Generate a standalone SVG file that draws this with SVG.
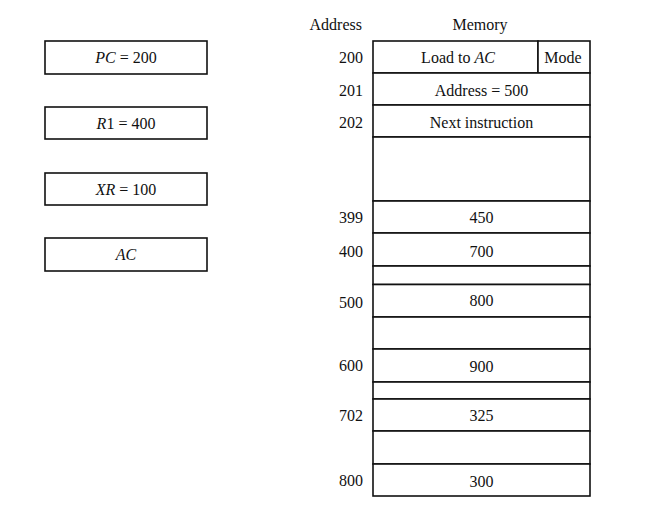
<svg xmlns="http://www.w3.org/2000/svg" width="668" height="517" viewBox="0 0 668 517">
<style>
  .box { fill: #fff; stroke: #111; stroke-width: 1.6; }
  .t { font-family: "Liberation Serif", "Times New Roman", serif; font-size: 16px; fill: #111; }
  .c { text-anchor: middle; }
  .r { text-anchor: end; }
  .i { font-style: italic; }
</style>
<rect width="668" height="517" fill="#fff"/>
<g id="registers">
  <g id="reg-pc"><rect class="box" x="45" y="41" width="162" height="33"/><text class="t c" x="126" y="62.5"><tspan class="i">PC</tspan> = 200</text></g>
  <g id="reg-r1"><rect class="box" x="45" y="107" width="162" height="32"/><text class="t c" x="126" y="128.5"><tspan class="i">R</tspan>1 = 400</text></g>
  <g id="reg-xr"><rect class="box" x="45" y="173" width="162" height="32"/><text class="t c" x="126" y="194.5"><tspan class="i">XR</tspan> = 100</text></g>
  <g id="reg-ac"><rect class="box" x="45" y="238" width="162" height="33"/><text class="t c i" x="126" y="260">AC</text></g>
</g>
<g id="headers">
  <text class="t r" x="362" y="30">Address</text>
  <text class="t c" x="480" y="30">Memory</text>
</g>
<g id="memory">
  <g id="m200"><rect class="box" x="373" y="41" width="165" height="32"/><rect class="box" x="538" y="41" width="52" height="32"/><text class="t c" x="458" y="62.5">Load to <tspan class="i">AC</tspan></text><text class="t c" x="563" y="62.5">Mode</text><text class="t r" x="363" y="62.5">200</text></g>
  <g id="m201"><rect class="box" x="373" y="73" width="217" height="32"/><text class="t c" x="481.5" y="95.5">Address = 500</text><text class="t r" x="363" y="95.5">201</text></g>
  <g id="m202"><rect class="box" x="373" y="105" width="217" height="32"/><text class="t c" x="481.5" y="127.5">Next instruction</text><text class="t r" x="363" y="128">202</text></g>
  <g id="gap1"><rect class="box" x="373" y="137" width="217" height="64"/></g>
  <g id="m399"><rect class="box" x="373" y="201" width="217" height="32"/><text class="t c" x="481.5" y="223">450</text><text class="t r" x="363" y="222.5">399</text></g>
  <g id="m400"><rect class="box" x="373" y="233" width="217" height="33"/><text class="t c" x="481.5" y="256.5">700</text><text class="t r" x="363" y="256.5">400</text></g>
  <g id="gap2"><rect class="box" x="373" y="266" width="217" height="18.5"/></g>
  <g id="m500"><rect class="box" x="373" y="284.5" width="217" height="32.5"/><text class="t c" x="481.5" y="306">800</text><text class="t r" x="363" y="307.5">500</text></g>
  <g id="gap3"><rect class="box" x="373" y="317" width="217" height="32"/></g>
  <g id="m600"><rect class="box" x="373" y="349" width="217" height="33"/><text class="t c" x="481.5" y="372">900</text><text class="t r" x="363" y="370.5">600</text></g>
  <g id="gap4"><rect class="box" x="373" y="382" width="217" height="17"/></g>
  <g id="m702"><rect class="box" x="373" y="399" width="217" height="32"/><text class="t c" x="481.5" y="421">325</text><text class="t r" x="363" y="421">702</text></g>
  <g id="gap5"><rect class="box" x="373" y="431" width="217" height="33"/></g>
  <g id="m800"><rect class="box" x="373" y="464" width="217" height="32"/><text class="t c" x="481.5" y="486.5">300</text><text class="t r" x="363" y="486">800</text></g>
</g>
</svg>
